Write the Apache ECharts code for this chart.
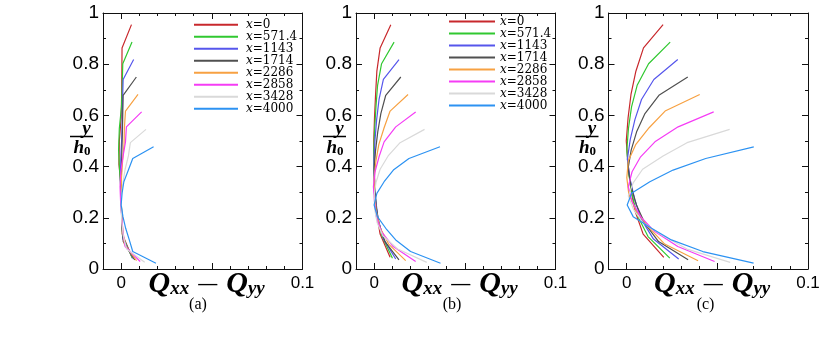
<!DOCTYPE html>
<html><head><meta charset="utf-8">
<script src="https://cdn.jsdelivr.net/npm/echarts@6/dist/echarts.min.js"></script>
<style>html,body{margin:0;padding:0;background:#fff}#c{width:824px;height:360px}</style>
</head><body><div id="c"></div>
<script>
// ---------- names, colours, ticks ----------
const seriesNames = ['x=0','x=571.4','x=1143','x=1714','x=2286','x=2858','x=3428','x=4000'];
const seriesColors = ['#c8282c','#30c830','#5656ec','#505050','#f7a142','#f53cf5','#d9d9d9','#2c92f2'];
const yTickValues = [0, 0.2, 0.4, 0.6, 0.8, 1];
const xLabelValues = [0, 0.1];
const xMajorTicks = [0, 0.05, 0.1];
const panelLabels = ['(a)', '(b)', '(c)'];

// ---------- y/h0 of the sample points at each station (bottom -> top) ----------
const y_x0    = [0.0455,0.1364,0.2273,0.3182,0.4091,0.5000,0.5909,0.6818,0.7727,0.8636,0.9545];
const y_x571  = [0.0422,0.1266,0.2110,0.2955,0.3799,0.4643,0.5487,0.6331,0.7175,0.8019,0.8864];
const y_x1143 = [0.0390,0.1169,0.1948,0.2727,0.3506,0.4286,0.5065,0.5844,0.6623,0.7403,0.8182];
const y_x1714 = [0.0357,0.1071,0.1786,0.2500,0.3214,0.3929,0.4643,0.5357,0.6071,0.6786,0.7500];
const y_x2286 = [0.0325,0.0974,0.1623,0.2273,0.2922,0.3571,0.4221,0.4870,0.5519,0.6169,0.6818];
const y_x2858 = [0.0292,0.0877,0.1461,0.2045,0.2630,0.3214,0.3799,0.4383,0.4968,0.5552,0.6136];
const y_x3428 = [0.0260,0.0779,0.1299,0.1818,0.2338,0.2857,0.3377,0.3896,0.4416,0.4935,0.5455];
const y_x4000 = [0.0227,0.0682,0.1136,0.1591,0.2045,0.2500,0.2955,0.3409,0.3864,0.4318,0.4773];

// ---------- Qxx - Qyy, panel (a) ----------
const a_x0    = [0.0060,0.0006,0.0002,0.0000,-0.0012,-0.0010,0.0000,0.0003,0.0004,0.0005,0.0057];
const a_x571  = [0.0062,0.0008,0.0003,0.0000,-0.0008,-0.0014,-0.0010,0.0002,0.0006,0.0009,0.0060];
const a_x1143 = [0.0068,0.0010,0.0004,0.0000,-0.0004,-0.0002,0.0003,0.0006,0.0008,0.0011,0.0069];
const a_x1714 = [0.0075,0.0012,0.0004,0.0001,0.0000,0.0002,0.0004,0.0007,0.0009,0.0011,0.0084];
const a_x2286 = [0.0085,0.0018,0.0008,0.0002,0.0000,0.0002,0.0008,0.0016,0.0018,0.0024,0.0093];
const a_x2858 = [0.0105,0.0022,0.0010,0.0003,-0.0003,-0.0006,-0.0002,0.0010,0.0024,0.0029,0.0113];
const a_x3428 = [0.0130,0.0030,0.0012,0.0004,0.0000,0.0002,0.0010,0.0022,0.0040,0.0051,0.0137];
const a_x4000 = [0.0192,0.0064,0.0045,0.0025,0.0010,0.0000,0.0005,0.0015,0.0040,0.0064,0.0179];

// ---------- panel (b) ----------
const b_x0    = [0.0088,0.0033,0.0012,0.0004,0.0000,-0.0002,0.0002,0.0008,0.0015,0.0033,0.0092];
const b_x571  = [0.0101,0.0044,0.0016,0.0005,0.0000,-0.0002,0.0003,0.0010,0.0019,0.0041,0.0110];
const b_x1143 = [0.0119,0.0052,0.0022,0.0008,0.0001,-0.0001,0.0005,0.0014,0.0027,0.0051,0.0137];
const b_x1714 = [0.0137,0.0060,0.0026,0.0010,0.0002,0.0000,0.0008,0.0020,0.0037,0.0064,0.0147];
const b_x2286 = [0.0174,0.0080,0.0032,0.0011,0.0002,0.0000,0.0010,0.0026,0.0055,0.0088,0.0187];
const b_x2858 = [0.0229,0.0105,0.0040,0.0012,0.0002,-0.0004,0.0005,0.0027,0.0055,0.0119,0.0229];
const b_x3428 = [0.0290,0.0130,0.0048,0.0016,0.0003,0.0000,0.0010,0.0033,0.0077,0.0143,0.0278];
const b_x4000 = [0.0366,0.0201,0.0119,0.0064,0.0018,0.0000,0.0015,0.0055,0.0106,0.0192,0.0363];

// ---------- panel (c) ----------
const c_x0    = [0.0205,0.0091,0.0046,0.0022,0.0008,-0.0002,0.0008,0.0024,0.0051,0.0093,0.0201];
const c_x571  = [0.0238,0.0118,0.0058,0.0028,0.0010,0.0001,0.0010,0.0027,0.0058,0.0121,0.0240];
const c_x1143 = [0.0287,0.0148,0.0080,0.0044,0.0019,0.0004,0.0020,0.0046,0.0082,0.0150,0.0282];
const c_x1714 = [0.0339,0.0176,0.0100,0.0054,0.0025,0.0008,0.0025,0.0055,0.0101,0.0178,0.0337];
const c_x2286 = [0.0394,0.0210,0.0122,0.0052,0.0012,0.0001,0.0009,0.0051,0.0124,0.0212,0.0403];
const c_x2858 = [0.0485,0.0282,0.0155,0.0077,0.0030,0.0009,0.0030,0.0077,0.0156,0.0284,0.0480];
const c_x3428 = [0.0571,0.0333,0.0200,0.0088,0.0037,0.0009,0.0037,0.0088,0.0201,0.0333,0.0568];
const c_x4000 = [0.0700,0.0420,0.0247,0.0137,0.0036,0.0003,0.0027,0.0128,0.0256,0.0436,0.0701];

const yPos = [y_x0,y_x571,y_x1143,y_x1714,y_x2286,y_x2858,y_x3428,y_x4000];
const panelValues = [
  [a_x0,a_x571,a_x1143,a_x1714,a_x2286,a_x2858,a_x3428,a_x4000],
  [b_x0,b_x571,b_x1143,b_x1714,b_x2286,b_x2858,b_x3428,b_x4000],
  [c_x0,c_x571,c_x1143,c_x1714,c_x2286,c_x2858,c_x3428,c_x4000]
];

// ---------- layout ----------
const gridLefts = [103, 356, 608.5];
const gridW = 199.5, gridTop = 13, gridH = 256;
const SANS = 'Liberation Sans, Arial, sans-serif';
const SERIF = 'Liberation Serif, Times New Roman, serif';

const fmtX = v => (Math.abs(v) < 1e-9 ? '0' : String(+v.toFixed(2)));
const fmtY = v => String(+v.toFixed(1));

const grids = [], xAxes = [], yAxes = [], series = [], graphics = [];
gridLefts.forEach((l, g) => {
  grids.push({left: l, top: gridTop, width: gridW, height: gridH, containLabel: false});
  const base = {type: 'value', gridIndex: g, min: -0.01, max: 0.1, splitLine: {show: false}};
  const line = {show: true, onZero: false, lineStyle: {color: '#111', width: 1}};
  const noLine = {show: false, onZero: false};
  const tickStyle = {color: '#111', width: 1};
  xAxes.push(Object.assign({}, base, {position: 'bottom', axisLine: line,
    axisTick: {show: true, inside: true, length: 6, customValues: xMajorTicks, lineStyle: tickStyle},
    axisLabel: {show: true, customValues: xLabelValues, formatter: fmtX, margin: 6, fontSize: 17, color: '#000', fontFamily: SANS}}));
  xAxes.push(Object.assign({}, base, {position: 'bottom', interval: 0.01, axisLine: noLine,
    axisTick: {show: true, inside: true, length: 3, interval: 0, lineStyle: tickStyle},
    axisLabel: {show: false, interval: 0}}));
  xAxes.push(Object.assign({}, base, {position: 'top', axisLine: line,
    axisTick: {show: true, inside: true, length: 6, customValues: xMajorTicks, lineStyle: tickStyle},
    axisLabel: {show: false}}));
  xAxes.push(Object.assign({}, base, {position: 'top', interval: 0.01, axisLine: noLine,
    axisTick: {show: true, inside: true, length: 3, interval: 0, lineStyle: tickStyle},
    axisLabel: {show: false, interval: 0}}));
  const ybase = {type: 'value', gridIndex: g, min: 0, max: 1, interval: 0.2, splitLine: {show: false},
    axisLine: line, axisTick: {show: true, inside: true, length: 6, lineStyle: tickStyle},
    minorTick: {show: true, splitNumber: 2, length: 3, lineStyle: tickStyle}};
  yAxes.push(Object.assign({}, ybase, {position: 'left',
    axisLabel: {show: true, formatter: fmtY, margin: 4, fontSize: 19, color: '#000', fontFamily: SANS,
      customValues: yTickValues}}));
  yAxes.push(Object.assign({}, ybase, {position: 'right', axisLabel: {show: false}}));

  panelValues[g].forEach((xs, s) => {
    series.push({
      type: 'line', name: seriesNames[s], xAxisIndex: 4 * g, yAxisIndex: 2 * g,
      data: xs.map((v, i) => [v, yPos[s][i]]),
      symbol: 'none', silent: true, animation: false,
      lineStyle: {color: seriesColors[s], width: 1.2}, itemStyle: {color: seriesColors[s]}
    });
  });

  const dx = l - gridLefts[0];
  graphics.push({type: 'text', x: 86.5 + dx, y: 129, style: {text: 'y', font: 'italic bold 19px ' + SERIF, fill: '#000', align: 'center', verticalAlign: 'middle'}});
  graphics.push({type: 'line', shape: {x1: 70 + dx, y1: 136.5, x2: 93 + dx, y2: 136.5}, style: {stroke: '#000', lineWidth: 1.5}});
  graphics.push({type: 'text', x: 82 + dx, y: 148, style: {text: '{h|h}{z|0}', align: 'center', verticalAlign: 'middle',
    rich: {h: {fontFamily: SERIF, fontStyle: 'italic', fontWeight: 'bold', fontSize: 19, lineHeight: 20, verticalAlign: 'middle', fill: '#000'},
           z: {fontFamily: SERIF, fontWeight: 'bold', fontSize: 13, lineHeight: 12, verticalAlign: 'bottom', fill: '#000'}}}});
  graphics.push({type: 'text', x: 206.7 + dx, y: 284, style: {text: '{q|Q}{s|xx}{m|\u2014}{q|Q}{s|yy}', align: 'center', verticalAlign: 'middle',
    rich: {q: {fontFamily: SERIF, fontStyle: 'italic', fontWeight: 'bold', fontSize: 30, lineHeight: 30, verticalAlign: 'middle', fill: '#000'},
           s: {fontFamily: SERIF, fontStyle: 'italic', fontWeight: 'bold', fontSize: 19, lineHeight: 15, verticalAlign: 'bottom', fill: '#000'},
           m: {fontFamily: SERIF, fontWeight: 'bold', fontSize: 19, lineHeight: 30, padding: [0, 9, 0, 9], verticalAlign: 'middle', fill: '#000'}}}});
  graphics.push({type: 'text', x: 198 + dx * 1.004, y: 305, style: {text: panelLabels[g], font: '16px ' + SERIF, fill: '#000', align: 'center', verticalAlign: 'middle'}});
});

const legendRich = {
  i: {fontFamily: 'DejaVu Serif, serif', fontStyle: 'italic', fontSize: 12, lineHeight: 14.4, color: '#000'},
  n: {fontFamily: 'DejaVu Serif, serif', fontSize: 12, lineHeight: 14.4, color: '#000'}
};
const legendCommon = {
  orient: 'vertical', data: seriesNames, itemWidth: 44, itemHeight: 14, itemGap: 0, padding: 0,
  selectedMode: false,
  lineStyle: {width: 2},
  itemStyle: {opacity: 0},
  formatter: n => '{i|x}{n|' + n.slice(1) + '}'
};

const chart = echarts.init(document.getElementById('c'), null, {renderer: 'canvas'});
chart.setOption({
  animation: false,
  backgroundColor: '#fff',
  grid: grids, xAxis: xAxes, yAxis: yAxes, series: series,
  legend: [
    Object.assign({}, legendCommon, {left: 193, top: 18.8, textStyle: {padding: [0, 0, 0, 3], rich: legendRich}}),
    Object.assign({}, legendCommon, {left: 448, top: 15.5, itemWidth: 46, textStyle: {padding: [0, 0, 0, 0], rich: legendRich}})
  ],
  graphic: graphics
});
</script></body></html>
